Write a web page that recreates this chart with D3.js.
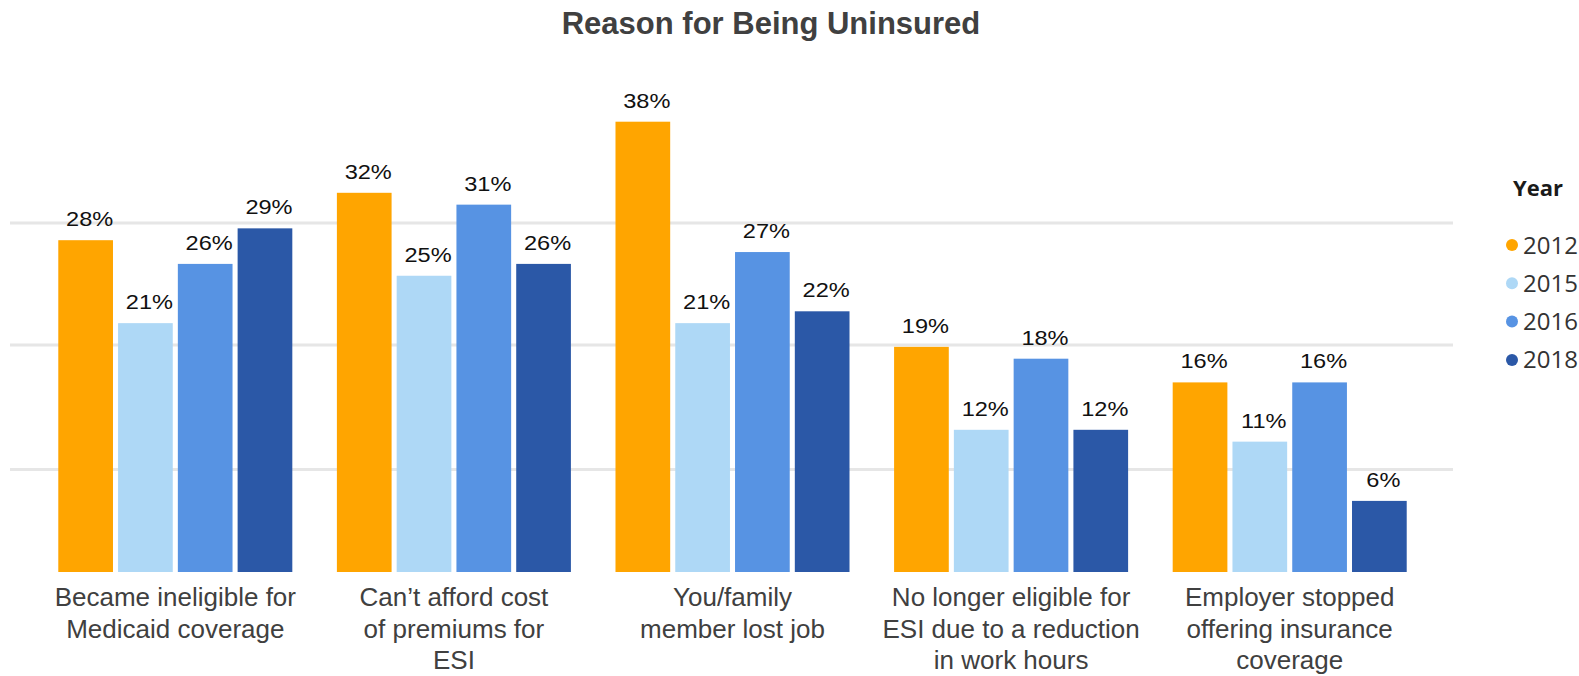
<!DOCTYPE html>
<html>
<head>
<meta charset="utf-8">
<script src="https://cdn.jsdelivr.net/npm/d3@7"></script>
<style>
body { margin: 0; background: #fff; }
</style>
</head>
<body>
<script>
var categories = [
    "Became ineligible for\nMedicaid coverage",
    "Can\u2019t afford cost\nof premiums for\nESI",
    "You/family\nmember lost job",
    "No longer eligible for\nESI due to a reduction\nin work hours",
    "Employer stopped\noffering insurance\ncoverage"
];
var years = ["2012", "2015", "2016", "2018"];
var values2012 = [28, 32, 38, 19, 16];
var values2015 = [21, 25, 21, 12, 11];
var values2016 = [26, 31, 27, 18, 16];
var values2018 = [29, 26, 22, 12, 6];
var gridTicks = [8.7, 19.2, 29.5];

var series = [values2012, values2015, values2016, values2018];
var colors = ["#FFA500", "#AED8F6", "#5793E3", "#2B58A7"];

var width = 1579;
var height = 676;

var svg = d3.select("body")
    .append("svg")
    .attr("width", width)
    .attr("height", height)

var x0 = d3.scaleBand()
    .domain(categories)
    .range([36, 1429])
    .paddingInner(0.16)
    .paddingOuter(0.08)

var x1 = d3.scaleBand()
    .domain(years)
    .range([0, x0.bandwidth()])
    .paddingInner(0.085)

var y = d3.scaleLinear()
    .domain([0, 40])
    .range([572, 98])

var color = d3.scaleOrdinal().domain(years).range(colors)

// title
svg.append("text")
    .attr("x", 771)
    .attr("y", 34)
    .attr("text-anchor", "middle")
    .style("font-family", "'Liberation Sans', Arial, sans-serif")
    .style("font-weight", "bold")
    .style("font-size", "31px")
    .style("fill", "#404040")
    .text("Reason for Being Uninsured")

// gridlines
var grid = svg.append("g")
    .attr("transform", "translate(10,0)")
    .call(d3.axisRight(y).tickValues(gridTicks).tickSize(1443).tickFormat(""))
grid.select(".domain").remove()
grid.selectAll("line")
    .attr("stroke", "#e6e6e6")
    .attr("stroke-width", 3)

// bars
var groups = svg.selectAll(".group")
    .data(categories)
    .enter()
    .append("g")
    .attr("class", "group")
    .attr("transform", function (d) { return "translate(" + x0(d) + ",0)" })

var cells = groups.selectAll(".cell")
    .data(function (d, i) {
        return years.map(function (yr, j) { return { year: yr, value: series[j][i] } })
    })
    .enter()
    .append("g")
    .attr("class", "cell")

cells.append("rect")
    .attr("x", function (d) { return x1(d.year) })
    .attr("y", function (d) { return y(d.value) })
    .attr("width", x1.bandwidth())
    .attr("height", function (d) { return y(0) - y(d.value) })
    .attr("fill", function (d) { return color(d.year) })

cells.append("text")
    .attr("transform", function (d) {
        return "translate(" + (x1(d.year) + x1.bandwidth() / 2 + 4) + "," + (y(d.value) - 14) + ") scale(1.15,1)"
    })
    .attr("text-anchor", "middle")
    .style("font-family", "'Liberation Sans', Arial, sans-serif")
    .style("font-size", "20.5px")
    .style("fill", "#111")
    .text(function (d) { return d.value + "%" })

// category axis
var xAxis = svg.append("g")
    .attr("transform", "translate(0," + y(0) + ")")
    .call(d3.axisBottom(x0).tickSize(0))
xAxis.select(".domain").remove()
xAxis.selectAll("text")
    .attr("y", 34)
    .attr("dy", null)
    .style("font-family", "'Liberation Sans', Arial, sans-serif")
    .style("font-size", "26px")
    .style("fill", "#404040")
    .each(function (d) {
        var t = d3.select(this)
        t.text(null)
        d.split("\n").forEach(function (line, k) {
            t.append("tspan")
                .attr("x", 0)
                .attr("dy", k == 0 ? 0 : 31.5)
                .text(line)
        })
    })

// legend
var legend = svg.append("g")
legend.append("text")
    .attr("x", 1513)
    .attr("y", 196)
    .style("font-family", "'Open Sans', sans-serif")
    .style("font-weight", "bold")
    .style("font-size", "22px")
    .style("fill", "#1a1a1a")
    .text("Year")

var items = legend.selectAll(".item")
    .data(years)
    .enter()
    .append("g")
    .attr("class", "item")
    .attr("transform", function (d, i) { return "translate(1512," + (245 + i * 38.3) + ")" })

items.append("circle")
    .attr("r", 6)
    .attr("fill", function (d) { return color(d) })

items.append("text")
    .attr("x", 11)
    .attr("y", 8.5)
    .style("font-family", "'Open Sans', sans-serif")
    .style("font-size", "24px")
    .style("fill", "#333")
    .text(function (d) { return d })
</script>
</body>
</html>
